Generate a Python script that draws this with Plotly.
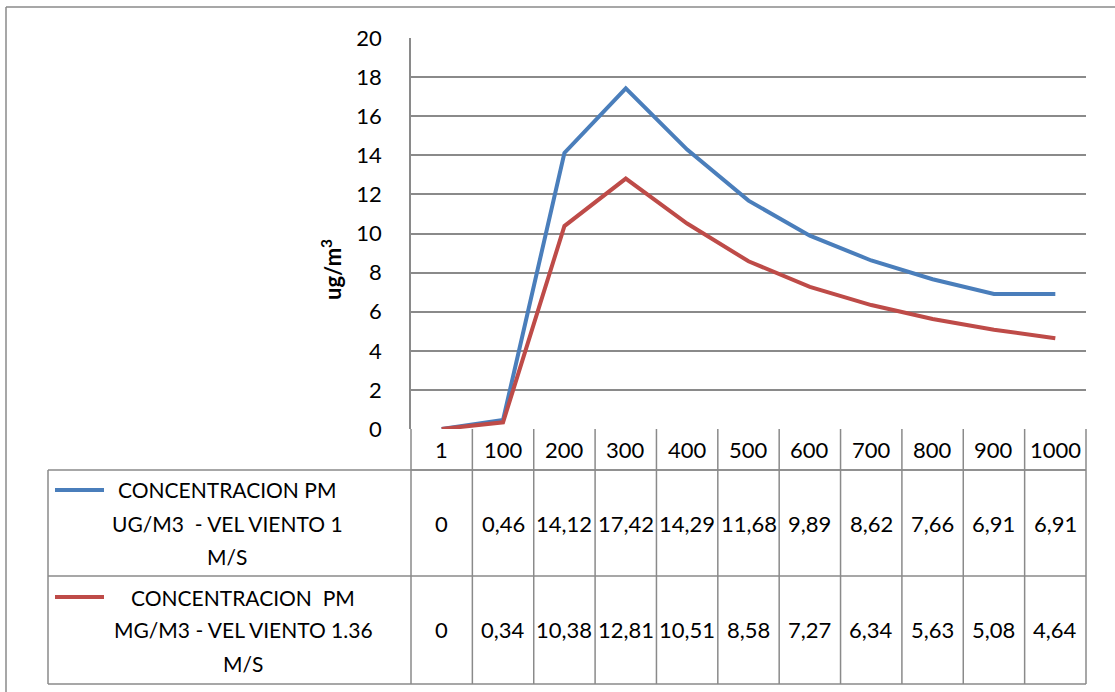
import plotly.graph_objects as go

categories = ["1", "100", "200", "300", "400", "500", "600", "700", "800", "900", "1000"]
series_ug = [0, 0.46, 14.12, 17.42, 14.29, 11.68, 9.89, 8.62, 7.66, 6.91, 6.91]
series_mg = [0, 0.34, 10.38, 12.81, 10.51, 8.58, 7.27, 6.34, 5.63, 5.08, 4.64]
labels_ug = ["CONCENTRACION PM", "UG/M3  - VEL VIENTO 1", "M/S"]
labels_mg = ["CONCENTRACION  PM", "MG/M3 - VEL VIENTO 1.36", "M/S"]
y_ticks = [0, 2, 4, 6, 8, 10, 12, 14, 16, 18, 20]
y_title = "ug/m<sup>3</sup>"

BLUE = "#4A7EBB"
RED = "#BE4B48"
GRID = "#8A8A8A"
FONT = "Lato"

W, H = 1115, 692
L, R, T, B = 411, 1086, 38, 429  # plot area in pixels

def px(x):
    return (x - L) / (R - L)

def py(y):
    return (B - y) / (B - T)

n = len(categories)
xs = list(range(n))

fig = go.Figure()
fig.add_trace(go.Scatter(x=xs, y=series_ug, mode="lines",
                         line=dict(color=BLUE, width=4), showlegend=False))
fig.add_trace(go.Scatter(x=xs, y=series_mg, mode="lines",
                         line=dict(color=RED, width=4), showlegend=False))

shapes = []
ann = []
lc = dict(color=GRID, width=1.5)

# outer frame
shapes.append(dict(type="line", xref="paper", yref="paper", x0=px(6), x1=px(1115), y0=py(7), y1=py(7), line=lc))
shapes.append(dict(type="line", xref="paper", yref="paper", x0=px(6), x1=px(6), y0=py(7), y1=py(692), line=lc))

# table rows
row_y = [B, 470, 576, 684]
shapes.append(dict(type="line", xref="paper", yref="paper", x0=0, x1=1, y0=py(row_y[1]), y1=py(row_y[1]), line=lc))
for yy in row_y[1:]:
    shapes.append(dict(type="line", xref="paper", yref="paper", x0=px(48), x1=1, y0=py(yy), y1=py(yy), line=lc))
shapes.append(dict(type="line", xref="paper", yref="paper", x0=px(48), x1=px(48), y0=py(470), y1=py(684), line=lc))
for i in range(n + 1):
    shapes.append(dict(type="line", xref="paper", yref="paper", x0=i / n, x1=i / n, y0=0, y1=py(684), line=lc))

fs = 21
nfs = 22
# category labels
for i, c in enumerate(categories):
    ann.append(dict(x=i, y=py(450), xref="x", yref="paper", text=c, showarrow=False,
                    font=dict(size=nfs, color="black", family=FONT), xanchor="center", yanchor="middle"))
# values
def fmt(v):
    s = f"{v:.2f}".replace(".", ",")
    return "0" if v == 0 else s

for i, v in enumerate(series_ug):
    ann.append(dict(x=i, y=py(523), xref="x", yref="paper", text=fmt(v), showarrow=False,
                    font=dict(size=nfs, color="black", family=FONT), xanchor="center", yanchor="middle"))
for i, v in enumerate(series_mg):
    ann.append(dict(x=i, y=py(630), xref="x", yref="paper", text=fmt(v), showarrow=False,
                    font=dict(size=nfs, color="black", family=FONT), xanchor="center", yanchor="middle"))

# legend keys
shapes.append(dict(type="line", xref="paper", yref="paper", x0=px(55), x1=px(104), y0=py(490), y1=py(490),
                   line=dict(color=BLUE, width=4)))
shapes.append(dict(type="line", xref="paper", yref="paper", x0=px(55), x1=px(104), y0=py(597), y1=py(597),
                   line=dict(color=RED, width=4)))
for k, t in enumerate(labels_ug):
    ann.append(dict(x=px(227), y=py(490 + 33 * k), xref="paper", yref="paper", text=t, showarrow=False,
                    font=dict(size=fs, color="black", family=FONT), xanchor="center", yanchor="middle"))
for k, t in enumerate(labels_mg):
    ann.append(dict(x=px(243), y=py(597 + 33 * k), xref="paper", yref="paper", text=t, showarrow=False,
                    font=dict(size=fs, color="black", family=FONT), xanchor="center", yanchor="middle"))

# y title
ann.append(dict(x=px(331), y=py(270), xref="paper", yref="paper", text="<b>" + y_title + "</b>", showarrow=False,
                textangle=-90, font=dict(size=22, color="black", family=FONT), xanchor="center", yanchor="middle"))

fig.update_layout(
    width=W, height=H,
    margin=dict(l=L, r=W - R, t=T, b=H - B, pad=0),
    paper_bgcolor="white", plot_bgcolor="white",
    font=dict(family=FONT, color="black"),
    shapes=shapes, annotations=ann,
    xaxis=dict(range=[-0.5, n - 0.5], showgrid=False, zeroline=False, showticklabels=False,
               showline=False, fixedrange=True),
    yaxis=dict(range=[0, 20], tickvals=y_ticks, showgrid=True, gridcolor=GRID, gridwidth=1.5,
               zeroline=False, showline=True, linecolor=GRID, linewidth=1.5,
               ticks="", ticklabelstandoff=23, tickfont=dict(size=22, color="black", family=FONT)),
)

fig.write_html("out.html")
